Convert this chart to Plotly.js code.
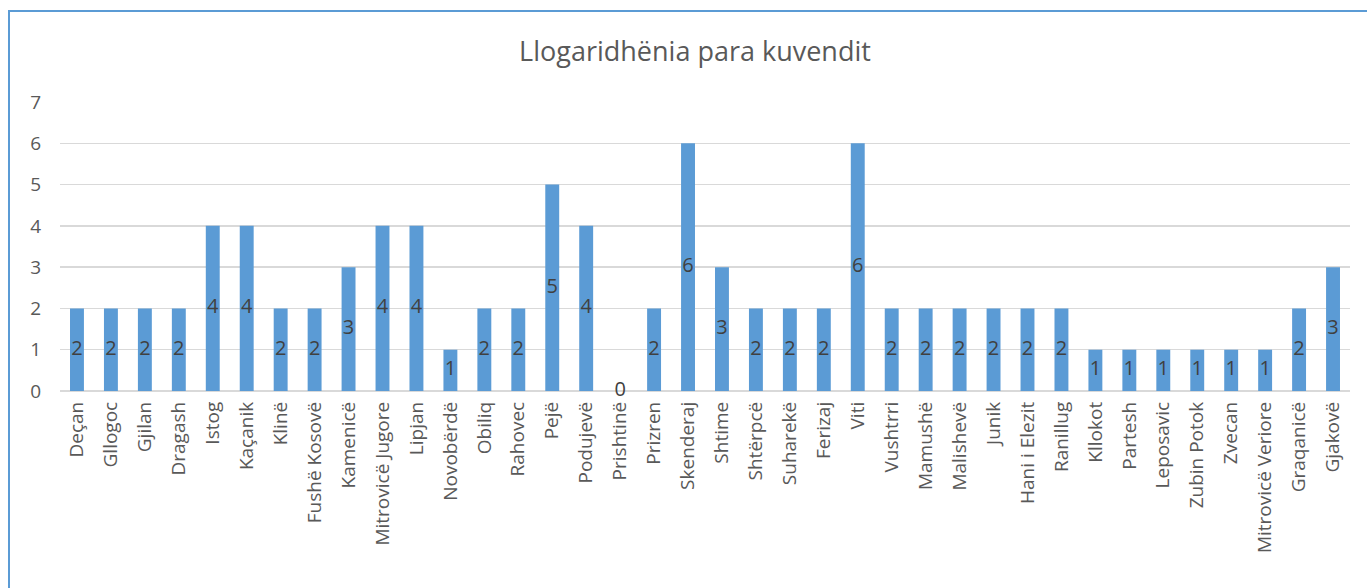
<!DOCTYPE html>
<html>
<head>
<meta charset="utf-8">
<script src="https://cdn.plot.ly/plotly-3.0.1.min.js"></script>
<style>
html,body{margin:0;padding:0;background:#fff;overflow:hidden;}
#frame{position:absolute;left:8px;top:10px;width:1400px;height:620px;border:2px solid #5b9bd5;box-sizing:border-box;pointer-events:none;z-index:5;}
#chart{position:absolute;left:0;top:0;width:1367px;height:588px;}
</style>
</head>
<body>
<div id="chart"></div>
<div id="frame"></div>
<script>
const categories = ["Deçan","Gllogoc","Gjilan","Dragash","Istog","Kaçanik","Klinë","Fushë Kosovë","Kamenicë","Mitrovicë Jugore","Lipjan","Novobërdë","Obiliq","Rahovec","Pejë","Podujevë","Prishtinë","Prizren","Skenderaj","Shtime","Shtërpcë","Suharekë","Ferizaj","Viti","Vushtrri","Mamushë","Malishevë","Junik","Hani i Elezit","Ranillug","Kllokot","Partesh","Leposavic","Zubin Potok","Zvecan","Mitrovicë Veriore","Graqanicë","Gjakovë"];
const values = [2,2,2,2,4,4,2,2,3,4,4,1,2,2,5,4,0,2,6,3,2,2,2,6,2,2,2,2,2,2,1,1,1,1,1,1,2,3];
const yTicks = [0,1,2,3,4,5,6,7];
const chartTitle = "Llogaridhënia para kuvendit";

const font = "'Open Sans', 'Noto Sans', sans-serif";
const bars = {
  type: 'bar', x: categories, y: values,
  marker: {color: '#5b9bd5'},
  hoverinfo: 'x+y'
};
const labels = {
  type: 'scatter', mode: 'text', x: categories,
  y: values.map(v => v / 2),
  text: values.map(String),
  textposition: 'middle center',
  textfont: {family: font, size: 20, color: '#404040'},
  hoverinfo: 'skip', cliponaxis: false
};
const layout = {
  width: 1367, height: 588,
  margin: {l: 60, r: 17, t: 102, b: 197},
  paper_bgcolor: '#fff', plot_bgcolor: '#fff',
  showlegend: false,
  bargap: 0.59,
  font: {family: font, color: '#595959'},
  title: {text: chartTitle, font: {family: font, size: 27, color: '#595959'}, x: 695/1367, xanchor: 'center', y: 1 - 52/588, yanchor: 'middle', yref: 'container', xref: 'container'},
  xaxis: {
    type: 'category', range: [-0.5, categories.length - 0.5],
    tickangle: -90, showgrid: false, zeroline: false,
    showline: false, ticks: '', tickfont: {family: font, size: 19, color: '#595959'},
    ticklabelstandoff: 6, automargin: false
  },
  yaxis: {
    range: [0, 7], tickvals: yTicks, ticktext: yTicks.map(String),
    showgrid: true, gridcolor: '#d9d9d9', gridwidth: 1.5,
    zeroline: true, zerolinecolor: '#d9d9d9', zerolinewidth: 1.5,
    showline: false, ticks: '', tickfont: {family: font, size: 19, color: '#595959'},
    ticklabelstandoff: 18, automargin: false, fixedrange: true
  }
};
Plotly.newPlot('chart', [bars, labels], layout, {displayModeBar: false, staticPlot: true});
</script>
</body>
</html>
